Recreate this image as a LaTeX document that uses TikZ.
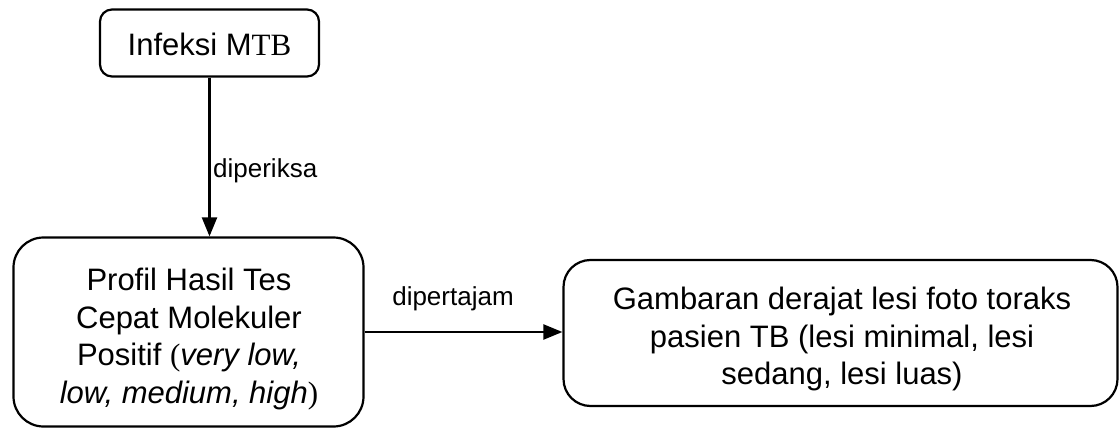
\documentclass[tikz,border=0pt]{standalone}
\usepackage{fontspec}
\setmainfont{Liberation Sans}
\newfontfamily\tnr{Liberation Serif}
\usetikzlibrary{arrows.meta}
\begin{document}
\begin{tikzpicture}[x=1pt,y=-1pt,
  box/.style={draw,line width=2.2pt,rectangle,inner sep=0pt},
  txt/.style={inner sep=0pt,align=center,font=\fontsize{31}{37.5}\selectfont},
  lbl/.style={font=\fontsize{26}{30}\selectfont,inner sep=0pt},
  conn/.style={line width=2.2pt,-{Triangle[length=19pt,width=15pt]}}]
\useasboundingbox (0,0) rectangle (1120,428);
\node[box,rounded corners=12pt,minimum width=219pt,minimum height=67pt] (top) at (209.5,43) {};
\node[txt] (toptxt) at (209.5,44) {Infeksi M{\tnr TB}};
\node[box,rounded corners=30pt,minimum width=350pt,minimum height=189pt] (left) at (188.5,332) {};
\node[txt] (lefttxt) at (189,339)
  {Profil Hasil Tes\\Cepat Molekuler\\Positif {\tnr(}\textit{very low,}\\\textit{low, medium, high}{\tnr)}};
\node[box,rounded corners=27pt,minimum width=554pt,minimum height=146pt] (right) at (840.5,333) {};
\node[txt] (righttxt) at (842,339)
  {Gambaran derajat lesi foto toraks\\pasien TB (lesi minimal, lesi\\sedang, lesi luas)};
\draw[conn] (top.south) -- (top.south |- left.north);
\draw[conn] (left.east) -- (left.east -| right.west);
\node[lbl,anchor=west] (l1) at (213,171) {diperiksa};
\node[lbl] (l2) at (453,299) {dipertajam};
\end{tikzpicture}
\end{document}
